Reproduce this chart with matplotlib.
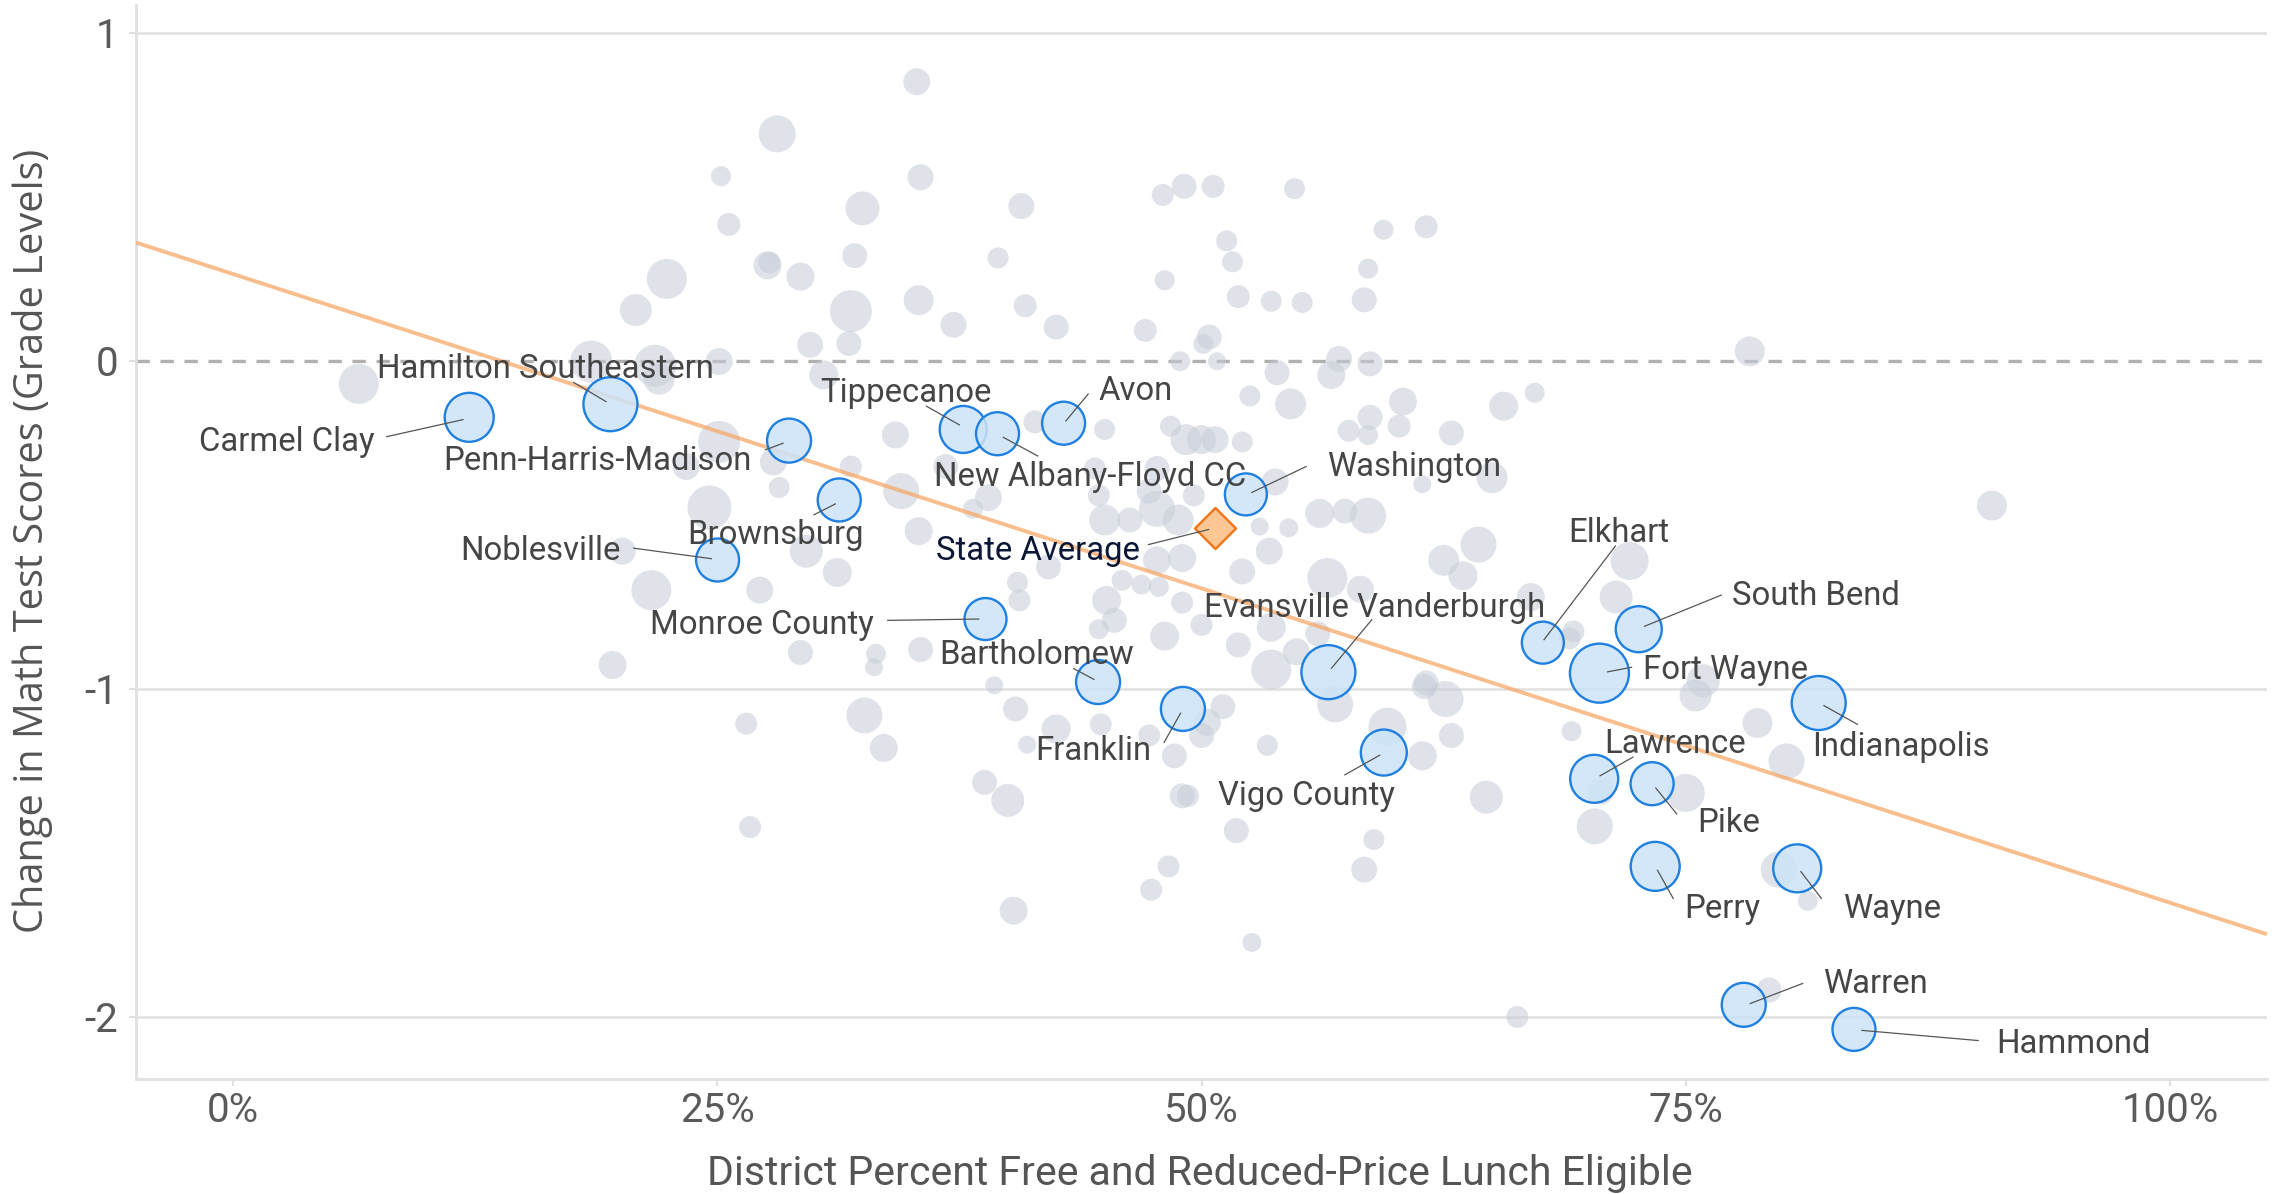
import numpy as np
import matplotlib
matplotlib.use("Agg")
import matplotlib.pyplot as plt
from matplotlib.ticker import PercentFormatter, FixedLocator

# ---------------- data ----------------
# background districts: percent FRL eligible, change in math scores, bubble size (px diameter)
gray_x = [28.1, 25.2, 25.6, 22.4, 20.8, 27.6, 27.7, 29.3, 29.8, 6.5, 18.5, 21.8, 22.0, 25.1, 30.5, 25.1, 27.9, 23.4,
          28.2, 24.6, 29.6, 31.2, 20.1, 21.6, 27.2, 29.3, 19.6, 26.5, 26.7,
          35.3, 35.5, 32.5, 40.7, 32.1, 39.5, 31.9, 35.4, 40.9, 37.2, 42.5, 31.8, 48.0, 49.1, 50.6, 54.8, 51.3, 51.6,
          48.1, 51.9, 53.6, 55.2, 59.4, 61.6, 58.6, 58.4, 47.1, 50.4, 50.1, 50.8, 48.9, 57.1, 58.7, 53.9, 56.7, 60.4,
          65.6, 52.5, 54.6, 45.0, 34.2, 41.4, 48.4, 49.2, 50.0, 50.7, 52.1, 57.6, 58.6, 58.7, 60.2, 62.9, 67.2, 31.9,
          34.5, 36.8, 39.0, 44.5, 44.7, 47.7, 47.3, 45.0, 46.3, 48.8, 47.7, 49.6, 53.8, 53.0, 54.5, 56.1, 57.4, 58.6,
          61.4, 65.0, 64.3, 62.5, 63.5, 53.5, 52.1, 56.5, 58.2, 47.7, 49.0, 45.9, 46.9, 47.8, 42.1, 40.5, 40.6, 35.4,
          38.2, 45.1, 49.0, 50.0, 48.1, 45.5, 44.7, 56.0, 51.9, 53.6, 35.5, 33.2, 33.1, 53.6, 54.9, 61.6, 39.3,
          32.6, 33.6, 40.4, 42.5, 44.8, 41.0, 47.3, 50.0, 50.3, 51.1, 48.6, 53.4, 56.9, 59.6, 61.4, 61.5, 62.6, 62.9,
          38.8, 40.0, 49.0, 49.3, 51.8, 64.7, 58.9, 58.4, 48.3, 47.4, 40.3, 52.6, 66.3,
          78.3, 90.8, 72.1, 71.4, 69.2, 69.0, 75.9, 75.5, 69.1, 78.7, 80.2, 75.0, 70.3, 70.6, 79.8, 81.3, 79.3, 67.0]
gray_y = [0.692, 0.563, 0.416, 0.250, 0.155, 0.291, 0.300, 0.257, 0.049, -0.070, -0.002, -0.015, -0.056, -0.002,
          -0.043, -0.247, -0.308, -0.322, -0.386, -0.447, -0.580, -0.645, -0.580, -0.699, -0.699, -0.889, -0.927,
          -1.106, -1.421,
          0.851, 0.560, 0.465, 0.472, 0.321, 0.314, 0.152, 0.185, 0.168, 0.110, 0.103, 0.053, 0.506, 0.532, 0.532,
          0.525, 0.366, 0.302, 0.246, 0.196, 0.182, 0.178, 0.400, 0.409, 0.281, 0.186, 0.093, 0.073, 0.052, -0.001,
          -0.001, 0.006, -0.009, -0.036, -0.043, -0.124, -0.138, -0.107, -0.131, -0.209, -0.226, -0.186, -0.199,
          -0.240, -0.240, -0.240, -0.247, -0.213, -0.226, -0.172, -0.199, -0.220, -0.097, -0.322, -0.397, -0.322,
          -0.417, -0.328, -0.410, -0.328, -0.397, -0.485, -0.485, -0.485, -0.451, -0.410, -0.369, -0.505, -0.509,
          -0.465, -0.458, -0.472, -0.376, -0.356, -0.560, -0.608, -0.655, -0.580, -0.642, -0.662, -0.696, -0.608,
          -0.601, -0.669, -0.682, -0.689, -0.628, -0.675, -0.730, -0.519, -0.451, -0.730, -0.737, -0.805, -0.839,
          -0.791, -0.818, -0.832, -0.866, -0.812, -0.880, -0.893, -0.934, -0.941, -0.887, -0.982, -0.989,
          -1.081, -1.180, -1.061, -1.122, -1.108, -1.170, -1.142, -1.142, -1.102, -1.054, -1.204, -1.172, -1.047,
          -1.115, -1.204, -0.993, -1.031, -1.142, -1.285, -1.340, -1.326, -1.326, -1.432, -1.330, -1.459, -1.551,
          -1.541, -1.612, -1.676, -1.773, -2.000,
          0.029, -0.441, -0.610, -0.720, -0.825, -0.846, -0.975, -1.020, -1.129, -1.104, -1.221, -1.317, -1.419,
          -1.312, -1.551, -1.646, -1.918, -0.720]
gray_size = [37, 20, 23, 40, 32, 28, 22, 28, 26, 40, 42, 42, 31, 27, 29, 42, 27, 27, 21, 44, 33, 29, 27, 40, 27, 25,
             28, 22, 22,
             27, 26, 34, 26, 25, 21, 42, 30, 23, 26, 25, 25, 22, 25, 23, 21, 21, 21, 20, 23, 21, 21, 20, 23, 20, 25,
             23, 25, 20, 18, 20, 26, 25, 25, 28, 28, 29, 21, 31, 21, 27, 23, 21, 31, 29, 27, 21, 22, 20, 25, 23, 25,
             20, 22, 36, 25, 27, 22, 22, 25, 25, 31, 25, 31, 36, 22, 27, 18, 19, 29, 25, 36, 18, 31, 36, 31, 29, 27,
             26, 40, 27, 28, 28, 21, 20, 20, 25, 21, 22, 28, 20, 29, 22, 22, 29, 25, 20, 25, 25, 29, 25, 20, 18, 40,
             27, 25, 18,
             36, 28, 25, 29, 22, 18, 22, 25, 27, 25, 25, 21, 36, 38, 29, 25, 36, 25, 25, 33, 25, 22, 25, 33, 21, 26,
             22, 22, 28, 19, 22,
             30, 30, 38, 33, 22, 22, 33, 32, 20, 30, 36, 38, 36, 27, 36, 20, 25, 28]

# highlighted districts
names = ["Carmel Clay", "Hamilton Southeastern", "Penn-Harris-Madison", "Noblesville", "Brownsburg",
         "Tippecanoe", "New Albany-Floyd CC", "Avon", "Washington", "Monroe County", "Bartholomew",
         "Franklin", "Evansville Vanderburgh", "Vigo County", "Elkhart", "South Bend", "Fort Wayne",
         "Indianapolis", "Lawrence", "Pike", "Perry", "Wayne", "Warren", "Hammond"]
hi_x = [12.2, 19.49, 28.71, 25.02, 31.3, 37.7, 39.47, 42.88, 52.29, 38.85, 44.66, 49.04, 56.55, 59.41,
        67.62, 72.57, 70.54, 81.86, 70.27, 73.26, 73.42, 80.75, 77.99, 83.68]
hi_y = [-0.172, -0.132, -0.243, -0.607, -0.424, -0.209, -0.222, -0.190, -0.407, -0.787, -0.979, -1.061,
        -0.949, -1.194, -0.859, -0.818, -0.952, -1.043, -1.274, -1.289, -1.541, -1.547, -1.963, -2.038]
hi_size = [51, 56, 46, 45, 45, 49, 45, 45, 44, 44, 46, 46, 56, 48, 44, 48, 61, 56, 50, 45, 51, 50, 46, 45]

state_avg_x = 50.72
state_avg_y = -0.508

# fitted trend line (intercept, slope per percentage point)
trend_intercept = 0.265
trend_slope = -0.01917

# ---------------- label layout ----------------
# name: (text x, text y, ha, leader start, leader end)
label_layout = {
    "Hamilton Southeastern": (16.15, -0.015, "center", (17.6, -0.066), (19.26, -0.124)),
    "Carmel Clay": (7.32, -0.240, "right", (7.94, -0.231), (11.88, -0.179)),
    "Penn-Harris-Madison": (26.8, -0.298, "right", (27.5, -0.271), (28.4, -0.251)),
    "Noblesville": (20.0, -0.571, "right", (20.7, -0.571), (24.7, -0.603)),
    "Brownsburg": (28.0, -0.522, "center", (30.0, -0.469), (31.1, -0.436)),
    "Monroe County": (33.1, -0.798, "right", (33.8, -0.791), (38.5, -0.787)),
    "Tippecanoe": (34.75, -0.090, "center", (35.8, -0.138), (37.5, -0.195)),
    "Avon": (44.7, -0.083, "left", (44.15, -0.101), (43.0, -0.183)),
    "New Albany-Floyd CC": (44.27, -0.345, "center", (41.55, -0.290), (39.77, -0.233)),
    "Washington": (56.5, -0.315, "left", (55.4, -0.322), (52.6, -0.401)),
    "Evansville Vanderburgh": (58.94, -0.744, "center", (58.79, -0.789), (56.71, -0.937)),
    "Bartholomew": (41.5, -0.889, "center", (43.4, -0.938), (44.45, -0.971)),
    "Franklin": (47.42, -1.181, "right", (48.07, -1.163), (48.92, -1.074)),
    "Vigo County": (55.4, -1.317, "center", (57.4, -1.262), (59.2, -1.202)),
    "Elkhart": (71.55, -0.516, "center", (71.37, -0.564), (67.68, -0.850)),
    "South Bend": (77.4, -0.707, "left", (76.83, -0.714), (72.87, -0.809)),
    "Fort Wayne": (72.8, -0.934, "left", (72.2, -0.934), (70.96, -0.948)),
    "Indianapolis": (81.5, -1.167, "left", (83.86, -1.108), (82.13, -1.051)),
    "Lawrence": (70.8, -1.159, "left", (72.27, -1.208), (70.57, -1.265)),
    "Pike": (75.6, -1.401, "left", (74.53, -1.381), (73.45, -1.302)),
    "Perry": (74.9, -1.662, "left", (74.35, -1.639), (73.54, -1.553)),
    "Wayne": (83.1, -1.662, "left", (82.0, -1.639), (80.94, -1.557)),
    "Warren": (82.07, -1.891, "left", (81.03, -1.898), (78.33, -1.959)),
    "Hammond": (91.0, -2.075, "left", (90.09, -2.072), (84.09, -2.041)),
}
state_layout = (46.8, -0.571, "right", (47.26, -0.560), (50.37, -0.514))

# ---------------- figure ----------------
DPI = 100
fig = plt.figure(figsize=(22.76, 11.94), dpi=DPI)
ax = fig.add_axes([136 / 2276, 1 - 1078.6 / 1194, (2267 - 136) / 2276, (1078.6 - 5) / 1194])

LABEL_FONT = ["Roboto", "DejaVu Sans"]
label_color = "#454545"


def px2s(d):
    return (d * 72.0 / DPI) ** 2


ax.scatter(gray_x, gray_y, s=[px2s(d) for d in gray_size], color="#c6cdd7", alpha=0.55,
           linewidths=0, zorder=2)

xl = np.array([-5, 105])
ax.plot(xl, trend_intercept + trend_slope * xl, color="#f8a868", alpha=0.75, lw=2.8,
        zorder=3, solid_capstyle="butt")

ax.scatter(hi_x, hi_y, s=[px2s(d - 2) for d in hi_size], facecolor=(0.80, 0.89, 0.97, 0.85),
           edgecolor="#1f80e0", linewidths=1.7, zorder=4)

ax.scatter([state_avg_x], [state_avg_y], marker="D", s=px2s(29), facecolor="#fcc792",
           edgecolor="#f07418", linewidths=1.7, zorder=5)

cap_half = 0.036
for name in names:
    tx, ty, ha, (l0x, l0y), (l1x, l1y) = label_layout[name]
    ax.plot([l0x, l1x], [l0y, l1y], color="#555555", lw=0.9, zorder=6)
    ax.text(tx, ty - cap_half, name, ha=ha, va="baseline", fontsize=23.7, color=label_color,
            family=LABEL_FONT, zorder=7)

tx, ty, ha, (l0x, l0y), (l1x, l1y) = state_layout
ax.plot([l0x, l1x], [l0y, l1y], color="#555555", lw=0.9, zorder=6)
ax.text(tx, ty - cap_half, "State Average", ha=ha, va="baseline", fontsize=23.7, color="#0b1736",
        family=LABEL_FONT, zorder=7)

# axes styling
ax.set_xlim(-5, 105)
ax.set_ylim(-2.188, 1.085)
ax.xaxis.set_major_locator(FixedLocator([0, 25, 50, 75, 100]))
ax.xaxis.set_major_formatter(PercentFormatter(100, decimals=0))
ax.yaxis.set_major_locator(FixedLocator([-2, -1, 0, 1]))
ax.yaxis.set_major_formatter(matplotlib.ticker.FuncFormatter(lambda v, p: f"{int(v)}"))

for y in [-2, -1, 1]:
    ax.axhline(y, color="#e3e3e3", lw=2.0, zorder=1)
ax.axhline(0, color="#b0b0b0", lw=2.4, dashes=(4.0, 3.2), zorder=1)

for s in ["top", "right"]:
    ax.spines[s].set_visible(False)
for s in ["left", "bottom"]:
    ax.spines[s].set_color("#e0e0e0")
    ax.spines[s].set_linewidth(2.0)

ax.tick_params(axis="both", colors="#e0e0e0", length=5, width=1.5, labelcolor="#5a5a5a",
               labelsize=29)
ax.tick_params(axis="x", pad=4)
ax.tick_params(axis="y", pad=8)
for lab in ax.get_xticklabels() + ax.get_yticklabels():
    lab.set_family(LABEL_FONT)

fig.text(1200 / 2276, 1 - 1185 / 1194, "District Percent Free and Reduced-Price Lunch Eligible",
         ha="center", va="baseline", fontsize=29.5, color="#555555", family=LABEL_FONT)
fig.text(33 / 2276, 1 - 541 / 1194, "Change in Math Test Scores (Grade Levels)", rotation=90,
         ha="center", va="center", fontsize=28.6, color="#555555", family=["Open Sans", "DejaVu Sans"])

fig.savefig("out.png", dpi=DPI, facecolor="white")
